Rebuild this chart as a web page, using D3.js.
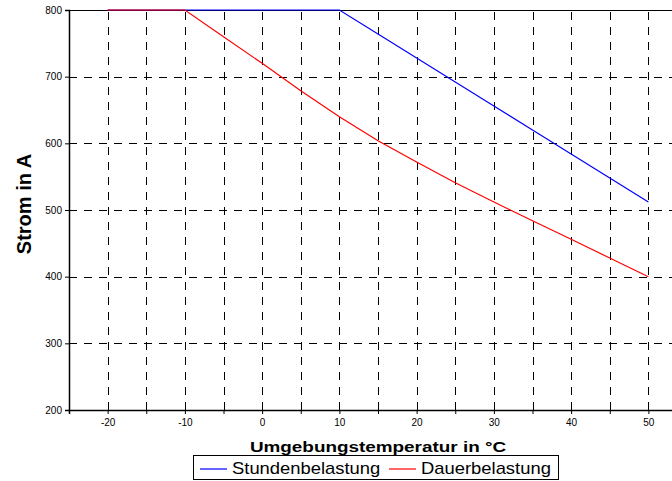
<!DOCTYPE html>
<html>
<head>
<meta charset="utf-8">
<script src="https://cdn.jsdelivr.net/npm/d3@7"></script>
<style>
  body { margin: 0; background: #fff; }
  svg { display: block; font-family: "Liberation Sans", Arial, sans-serif; }
</style>
</head>
<body>
<div id="chart"></div>
<script>
// temperatures in °C
var temps = [-20, -15, -10, -5, 0, 5, 10, 15, 20, 25, 30, 35, 40, 45, 50];
// current in A
var stunden = [800, 800, 800, 800, 800, 800, 800, 764, 728, 692, 656, 620, 584, 548, 512];
var dauer = [800, 800, 800, 760, 720, 679, 640, 604, 572, 541, 512, 484, 456, 428, 400];

var seriesNames = ["Stundenbelastung", "Dauerbelastung"];
var seriesColors = ["#0000ff", "#ff0000"];

var xTicks = [-25, -20, -15, -10, -5, 0, 5, 10, 15, 20, 25, 30, 35, 40, 45, 50, 55];
var xLabels = [-20, -10, 0, 10, 20, 30, 40, 50];
var yTicks = [200, 300, 400, 500, 600, 700, 800];

var svgWidth = 672;
var svgHeight = 481;
var margin = { top: 10, left: 69 };
var width = 618;
var height = 400;

var svg = d3.select("#chart")
  .append("svg")
  .attr("width", svgWidth)
  .attr("height", svgHeight);

var chart = svg.append("g")
  .attr("transform", `translate(${margin.left}, ${margin.top})`);

var xScale = d3.scaleLinear().domain([-25, 55]).range([0, width]);
var yScale = d3.scaleLinear().domain([200, 800]).range([height, 0]);

// dashed grid
chart.append("g")
  .selectAll("line")
  .data(xTicks.filter(d => d > -25 && d < 55))
  .enter()
  .append("line")
  .attr("x1", d => Math.round(xScale(d)) + 0.5)
  .attr("x2", d => Math.round(xScale(d)) + 0.5)
  .attr("y1", height)
  .attr("y2", 0)
  .attr("stroke", "#000")
  .attr("stroke-dasharray", "8,7");

chart.append("g")
  .selectAll("line")
  .data(yTicks.filter(d => d > 200 && d < 800))
  .enter()
  .append("line")
  .attr("x1", 0)
  .attr("x2", width)
  .attr("y1", d => Math.round(yScale(d)) + 0.5)
  .attr("y2", d => Math.round(yScale(d)) + 0.5)
  .attr("stroke", "#000")
  .attr("stroke-dasharray", "8,7");

// top border
chart.append("line")
  .attr("x1", 0).attr("x2", width)
  .attr("y1", 0).attr("y2", 0)
  .attr("stroke", "#000")
  .attr("shape-rendering", "crispEdges");

// axes
var xAxis = chart.append("g")
  .attr("transform", `translate(0, ${height})`)
  .call(d3.axisBottom(xScale)
    .tickValues(xTicks)
    .tickSize(4)
    .tickFormat(d => xLabels.indexOf(d) >= 0 ? d : ""));

var yAxis = chart.append("g")
  .call(d3.axisLeft(yScale)
    .tickValues(yTicks)
    .tickSize(4)
    .tickFormat(d3.format("d")));

[xAxis, yAxis].forEach(function(ax) {
  ax.select(".domain").attr("stroke", "#000").attr("stroke-width", 1.5);
  ax.selectAll(".tick line").attr("stroke", "#000");
  ax.selectAll("text")
    .attr("fill", "#000")
    .style("font-size", "10px")
    .style("font-family", "Liberation Sans, Arial, sans-serif");
});
xAxis.selectAll("text").attr("y", 9);
yAxis.selectAll("text").attr("x", -7);

// lines
var line = d3.line()
  .x((d, i) => xScale(temps[i]))
  .y(d => yScale(d));

[stunden, dauer].forEach(function(values, i) {
  chart.append("path")
    .datum(values)
    .attr("d", line)
    .attr("fill", "none")
    .attr("stroke", seriesColors[i])
    .attr("stroke-width", 1.2);
});

// axis titles (the original is a bit stretched sideways)
svg.append("text")
  .attr("transform", "translate(378, 452) scale(1.22, 1)")
  .attr("text-anchor", "middle")
  .style("font-size", "15.5px")
  .style("font-weight", "bold")
  .text("Umgebungstemperatur in °C");

svg.append("text")
  .attr("transform", "translate(31, 204) rotate(-90)")
  .attr("text-anchor", "middle")
  .style("font-size", "20px")
  .style("font-weight", "bold")
  .text("Strom in A");

// legend
var legend = svg.append("g");
legend.append("rect")
  .attr("x", 193.5)
  .attr("y", 455.5)
  .attr("width", 365)
  .attr("height", 24)
  .attr("fill", "#fff")
  .attr("stroke", "#000");

var legendX = [200, 389];
seriesNames.forEach(function(name, i) {
  legend.append("line")
    .attr("x1", legendX[i])
    .attr("x2", legendX[i] + 27)
    .attr("y1", 469)
    .attr("y2", 469)
    .style("stroke", seriesColors[i])
    .style("stroke-width", 1.2);
  legend.append("text")
    .attr("transform", `translate(${legendX[i] + 32}, 474) scale(1.15, 1)`)
    .style("font-size", "16px")
    .text(name);
});
</script>
</body>
</html>
